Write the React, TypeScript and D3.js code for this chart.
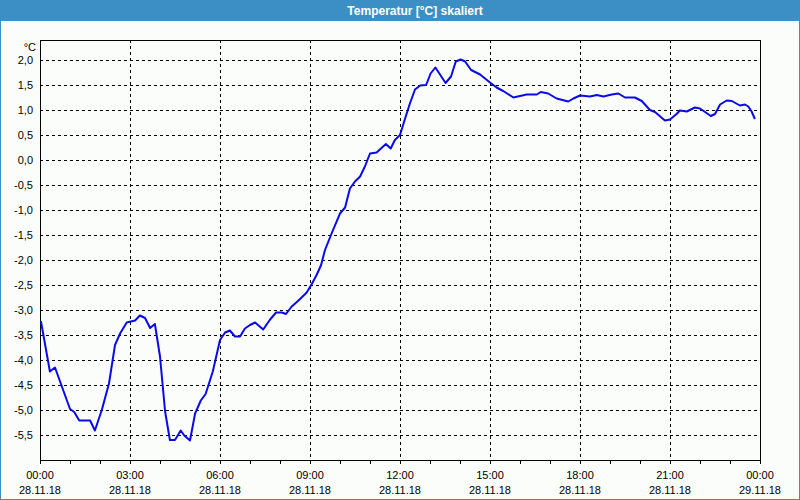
import React, { useEffect, useRef } from "react";
import * as d3 from "d3";

const TITLE = "Temperatur [°C] skaliert";
const UNIT = "°C";

const hours: number[] = [
  0.03, 0.33, 0.5, 1.0, 1.14, 1.31, 1.67, 1.83, 2.06, 2.3, 2.5, 2.67, 2.89, 3.17, 3.33, 3.5, 3.67, 3.83,
  4.0, 4.17, 4.33, 4.5, 4.69, 4.81, 5.0, 5.17, 5.36, 5.52, 5.76, 6.0, 6.17, 6.33, 6.5, 6.67, 6.83, 7.0,
  7.17, 7.44, 7.67, 7.87, 8.06, 8.2, 8.39, 8.58, 8.72, 8.89, 9.06, 9.22, 9.37, 9.5, 9.72, 10.0, 10.17,
  10.33, 10.5, 10.67, 10.83, 11.0, 11.22, 11.53, 11.69, 11.83, 12.0, 12.17, 12.33, 12.5, 12.67, 12.87,
  13.02, 13.18, 13.52, 13.7, 13.86, 14.02, 14.17, 14.37, 14.67, 15.0, 15.22, 15.44, 15.78, 16.0, 16.22,
  16.56, 16.69, 16.94, 17.22, 17.61, 17.78, 18.0, 18.33, 18.56, 18.78, 19.06, 19.28, 19.5, 19.83, 20.06,
  20.33, 20.5, 20.83, 21.0, 21.22, 21.33, 21.56, 21.83, 22.0, 22.36, 22.5, 22.67, 22.89, 23.06, 23.33,
  23.5, 23.61, 23.72, 23.83,
];

const temps: number[] = [
  -3.22, -4.23, -4.15, -4.98, -5.04, -5.21, -5.21, -5.41, -5.0, -4.47, -3.7, -3.47, -3.25, -3.21, -3.11,
  -3.16, -3.36, -3.28, -3.93, -5.03, -5.6, -5.6, -5.41, -5.51, -5.61, -5.07, -4.81, -4.68, -4.23, -3.6,
  -3.45, -3.41, -3.53, -3.53, -3.37, -3.3, -3.25, -3.39, -3.19, -3.05, -3.05, -3.08, -2.93, -2.83, -2.75,
  -2.65, -2.48, -2.3, -2.1, -1.8, -1.47, -1.07, -0.95, -0.57, -0.43, -0.33, -0.13, 0.13, 0.15, 0.32, 0.23,
  0.4, 0.5, 0.83, 1.13, 1.41, 1.49, 1.5, 1.73, 1.85, 1.54, 1.67, 1.97, 2.01, 1.97, 1.8, 1.71, 1.55, 1.45,
  1.38, 1.25, 1.28, 1.31, 1.31, 1.36, 1.33, 1.23, 1.17, 1.23, 1.29, 1.27, 1.3, 1.27, 1.31, 1.33, 1.25,
  1.25, 1.18, 1.0, 0.96, 0.79, 0.81, 0.92, 0.99, 0.97, 1.05, 1.03, 0.88, 0.92, 1.11, 1.19, 1.18, 1.09,
  1.11, 1.07, 0.97, 0.82,
];

const yTicks: number[] = [2.0, 1.5, 1.0, 0.5, 0.0, -0.5, -1.0, -1.5, -2.0, -2.5, -3.0, -3.5, -4.0, -4.5, -5.0, -5.5];
const xMajorHours: number[] = [0, 3, 6, 9, 12, 15, 18, 21, 24];
const xTimeLabels: string[] = ["00:00", "03:00", "06:00", "09:00", "12:00", "15:00", "18:00", "21:00", "00:00"];
const xDateLabels: string[] = ["28.11.18", "28.11.18", "28.11.18", "28.11.18", "28.11.18", "28.11.18", "28.11.18", "28.11.18", "29.11.18"];

export default function App() {
  const ref = useRef<SVGSVGElement>(null);

  useEffect(() => {
    const W = 800, H = 500;
    const L = 40, R = 760, T = 40, B = 460;
    const svg = d3.select(ref.current!);
    svg.selectAll("*").remove();
    const font = "'Liberation Sans', Arial, sans-serif";

    svg.append("rect").attr("x", 0).attr("y", 0).attr("width", W).attr("height", H).attr("fill", "#fbfdfb");
    svg.append("rect").attr("x", 0.5).attr("y", 0.5).attr("width", W - 1).attr("height", H - 1)
      .attr("fill", "none").attr("stroke", "#3b8fc4").attr("stroke-width", 1);
    svg.append("rect").attr("x", 0).attr("y", 0).attr("width", W).attr("height", 21).attr("fill", "#3c8fc4");
    svg.append("text").attr("x", 415).attr("y", 15).attr("text-anchor", "middle")
      .attr("font-family", font).attr("font-weight", "bold").attr("font-size", 12)
      .attr("fill", "#ffffff").text(TITLE);

    const x = d3.scaleLinear().domain([0, 24]).range([L, R]);
    const y = d3.scaleLinear().domain([-6, 2.4]).range([B, T]);

    const g = svg.append("g");
    // horizontal grid
    g.selectAll(".hg").data(yTicks).enter().append("line")
      .attr("x1", L).attr("x2", R)
      .attr("y1", (d) => Math.round(y(d)) + 0.5).attr("y2", (d) => Math.round(y(d)) + 0.5)
      .attr("stroke", "#000").attr("stroke-width", 1).attr("stroke-dasharray", "3,3");
    // vertical grid
    g.selectAll(".vg").data(xMajorHours.slice(1, -1)).enter().append("line")
      .attr("x1", (d) => Math.round(x(d)) + 0.5).attr("x2", (d) => Math.round(x(d)) + 0.5)
      .attr("y1", T).attr("y2", B)
      .attr("stroke", "#000").attr("stroke-width", 1).attr("stroke-dasharray", "3,3");

    // frame
    g.append("rect").attr("x", L + 0.5).attr("y", T + 0.5).attr("width", R - L).attr("height", B - T)
      .attr("fill", "none").attr("stroke", "#000").attr("stroke-width", 1);

    // minor ticks (hourly)
    g.selectAll(".tk").data(d3.range(0, 25)).enter().append("line")
      .attr("x1", (d) => Math.round(x(d)) + 0.5).attr("x2", (d) => Math.round(x(d)) + 0.5)
      .attr("y1", B).attr("y2", B + 4).attr("stroke", "#000").attr("stroke-width", 1);

    // y labels
    g.selectAll(".yl").data(yTicks).enter().append("text")
      .attr("x", 33).attr("y", (d) => y(d) + 4).attr("text-anchor", "end")
      .attr("font-family", font).attr("font-size", 11).attr("fill", "#000")
      .text((d) => d3.format(".1f")(d).replace(".", ",").replace("−", "-"));
    g.append("text").attr("x", 36).attr("y", 51).attr("text-anchor", "end")
      .attr("font-family", font).attr("font-size", 11).attr("fill", "#000").text(UNIT);

    // x labels
    xMajorHours.forEach((h, i) => {
      g.append("text").attr("x", x(h)).attr("y", 479).attr("text-anchor", "middle")
        .attr("font-family", font).attr("font-size", 11).attr("fill", "#000").text(xTimeLabels[i]);
      g.append("text").attr("x", x(h)).attr("y", 494).attr("text-anchor", "middle")
        .attr("font-family", font).attr("font-size", 11).attr("fill", "#000").text(xDateLabels[i]);
    });

    const pts: [number, number][] = hours.map((h, i) => [h, temps[i]]);
    const line = d3.line<[number, number]>().x((d) => x(d[0])).y((d) => y(d[1]));
    g.append("path").attr("d", line(pts)!).attr("fill", "none")
      .attr("stroke", "#0a0ae8").attr("stroke-width", 2).attr("stroke-linejoin", "round");
  }, []);

  return (
    <svg ref={ref} width={800} height={500} style={{ position: "fixed", left: 0, top: 0, display: "block" }} />
  );
}
